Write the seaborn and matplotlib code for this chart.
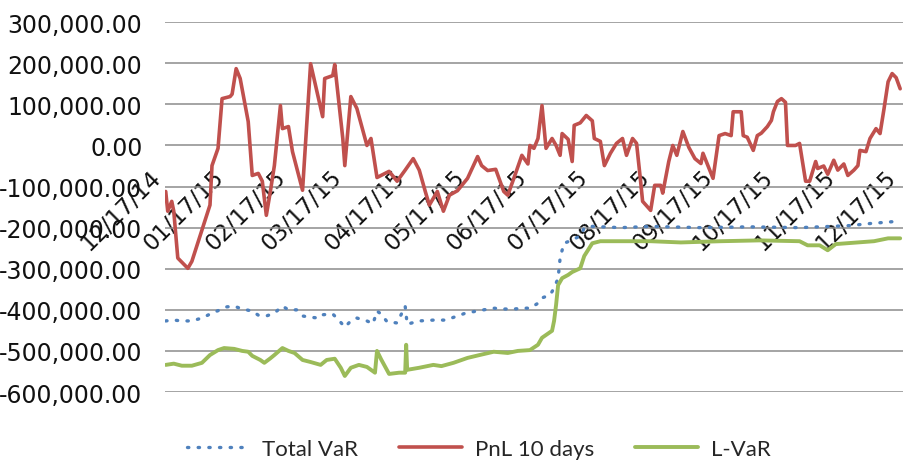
import pandas as pd
import matplotlib
matplotlib.use("Agg")
import matplotlib.pyplot as plt
import matplotlib.dates as mdates
from matplotlib.ticker import FuncFormatter
import seaborn as sns

# fechas: dias desde 12/17/14
start = pd.Timestamp("2014-12-17")

pnl_days = [0, 1, 3, 4, 6, 11, 13, 22, 23, 26, 28, 32, 33, 35, 37, 41, 43, 46, 48, 50,
            52, 54, 57, 58, 61, 63, 68, 72, 78, 79, 83, 84, 88, 89, 92, 95, 100, 102, 105, 111,
            115, 119, 123, 126, 129, 131, 135, 138, 141, 145, 150, 155, 157, 160, 164, 168, 170, 173, 177, 180,
            181, 183, 185, 187, 189, 192, 194, 196, 197, 200, 202, 203, 206, 209, 212, 213, 216, 218, 221, 224,
            227, 229, 232, 234, 236, 237, 241, 243, 246, 247, 250, 252, 254, 257, 260, 263, 266, 267, 270, 272,
            275, 278, 281, 282, 286, 287, 289, 292, 294, 296, 299, 301, 302, 304, 306, 308, 309, 313, 315, 318,
            320, 323, 324, 327, 329, 332, 334, 337, 339, 342, 344, 345, 348, 350, 353, 355, 357, 359, 361, 363, 365]
pnl_vals = [-112, -160, -136, -160, -274, -299, -282, -145, -49, -7, 114, 119, 125, 187, 163, 58, -73, -68, -87, -170,
            -112, -49, 97, 41, 46, -15, -109, 199, 70, 163, 170, 197, 17, -49, 119, 90, 0, 17, -78, -63,
            -87, -60, -32, -60, -112, -145, -112, -160, -121, -110, -80, -27, -49, -61, -58, -112, -121, -80, -24, -45,
            0, -7, 17, 97, -7, 17, 0, -24, 29, 15, -39, 49, 55, 73, 60, 17, 10, -49, -19, 5,
            17, -24, 17, 5, -87, -136, -158, -97, -97, -116, -39, 0, -24, 34, -5, -32, -44, -19, -56, -80,
            24, 29, 24, 82, 82, 24, 20, -12, 24, 30, 46, 61, 82, 107, 114, 105, 0, 0, 5, -87,
            -87, -39, -56, -50, -70, -36, -60, -45, -73, -60, -49, -12, -15, 17, 41, 29, 90, 155, 175, 165, 138]

var_days = [0, 4, 8, 13, 18, 23, 27, 30, 34, 38, 43, 46, 50, 54, 58, 61, 65, 68, 72, 76,
            78, 83, 86, 89, 92, 95, 100, 103, 105, 107, 110, 115, 119, 120, 126, 133, 139, 145, 149, 158,
            163, 168, 173, 178, 181, 185, 187, 191, 193, 195, 195.5, 196, 197, 198, 202, 206, 208, 212, 226, 241,
            266, 290, 315, 340, 350, 365]
var_vals = [-427, -425, -427, -427, -420, -408, -400, -393, -391, -398, -403, -413, -415, -408, -391, -400, -400, -415, -418, -420,
            -412, -410, -425, -442, -427, -420, -427, -434, -403, -410, -429, -432, -391, -435, -427, -425, -425, -415, -408, -400,
            -396, -398, -398, -396, -396, -384, -371, -364, -347, -323, -299, -274, -255, -238, -230, -220, -201, -197, -200, -197,
            -200, -198, -200, -195, -190, -184]

lvar_days = [0, 4, 8, 13, 18, 22, 26, 29, 34, 38, 41, 43, 47, 49, 52, 54, 58, 61, 64, 68,
             72, 77, 80, 84, 87, 89, 92, 96, 100, 104, 105, 107, 111, 116, 119, 119.5, 120, 126, 133, 137,
             143, 150, 156, 163, 170, 175, 181, 185, 187, 192, 193, 194, 195, 197, 200, 202, 206, 208, 212, 216,
             241, 256, 276, 295, 315, 319, 325, 329, 333, 352, 359, 365]
lvar_vals = [-534, -531, -536, -536, -529, -510, -498, -493, -495, -500, -502, -512, -522, -529, -518, -510, -493, -500, -505, -522,
             -527, -534, -522, -519, -541, -561, -541, -534, -539, -553, -500, -520, -556, -553, -553, -485, -546, -541, -534, -537,
             -529, -517, -510, -502, -505, -500, -498, -485, -468, -451, -427, -388, -340, -323, -315, -308, -299, -269, -238, -233,
             -233, -236, -233, -231, -233, -243, -243, -255, -240, -233, -226, -226]

def to_dates(days):
    return start + pd.to_timedelta(days, unit="D")

sns.set_style("white")
plt.rcParams["font.family"] = ["DejaVu Sans"]

fig = plt.figure(figsize=(9.05, 4.64), dpi=100)
ax = fig.add_axes([0.182, 0.153, 0.816, 0.797])

sns.lineplot(x=to_dates(var_days), y=[v * 1000 for v in var_vals], ax=ax, color="#4F81BD",
             linewidth=2.4, linestyle=(0, (0.4, 2.8)), dash_capstyle="round", label="Total VaR")
sns.lineplot(x=to_dates(pnl_days), y=[v * 1000 for v in pnl_vals], ax=ax, color="#C0504D",
             linewidth=2.6, label="PnL 10 days")
sns.lineplot(x=to_dates(lvar_days), y=[v * 1000 for v in lvar_vals], ax=ax, color="#9BBB59",
             linewidth=2.8, label="L-VaR")

ax.set_ylim(-600000, 300000)
ax.set_yticks(range(-600000, 300001, 100000))
ax.yaxis.set_major_formatter(FuncFormatter(lambda v, p: f"{v:,.2f}"))
ax.set_xlim(start - pd.Timedelta(days=0.5), start + pd.Timedelta(days=366.5))

ticks = [start + pd.DateOffset(months=i) for i in range(13)]
ax.set_xticks(ticks)
ax.xaxis.set_major_formatter(mdates.DateFormatter("%m/%d/%y"))
ax.grid(axis="y", color="#8c8c8c", linewidth=1.1)
ax.grid(axis="x", visible=False)

for s in ["left", "right", "top"]:
    ax.spines[s].set_visible(False)
ax.spines["bottom"].set_position(("data", 0))
ax.spines["bottom"].set_visible(False)

ax.tick_params(axis="y", length=0, labelsize=17, pad=16, labelcolor="#111111")
ax.tick_params(axis="x", length=0, labelsize=16.5, pad=26, labelcolor="#111111")
for lab in ax.get_xticklabels():
    lab.set_rotation(45)
    lab.set_ha("right")
    lab.set_va("bottom")
    lab.set_rotation_mode("anchor")

ax.set_xlabel("")
ax.set_ylabel("")
h, l = ax.get_legend_handles_labels()
ax.get_legend().remove()
fig.legend(h, l, loc="lower center", ncol=3, bbox_to_anchor=(0.529, -0.034), frameon=False,
           prop={"family": "Lato", "size": 16}, handlelength=2.8, columnspacing=1.85, handletextpad=0.6)

fig.savefig("out.png", dpi=100)
